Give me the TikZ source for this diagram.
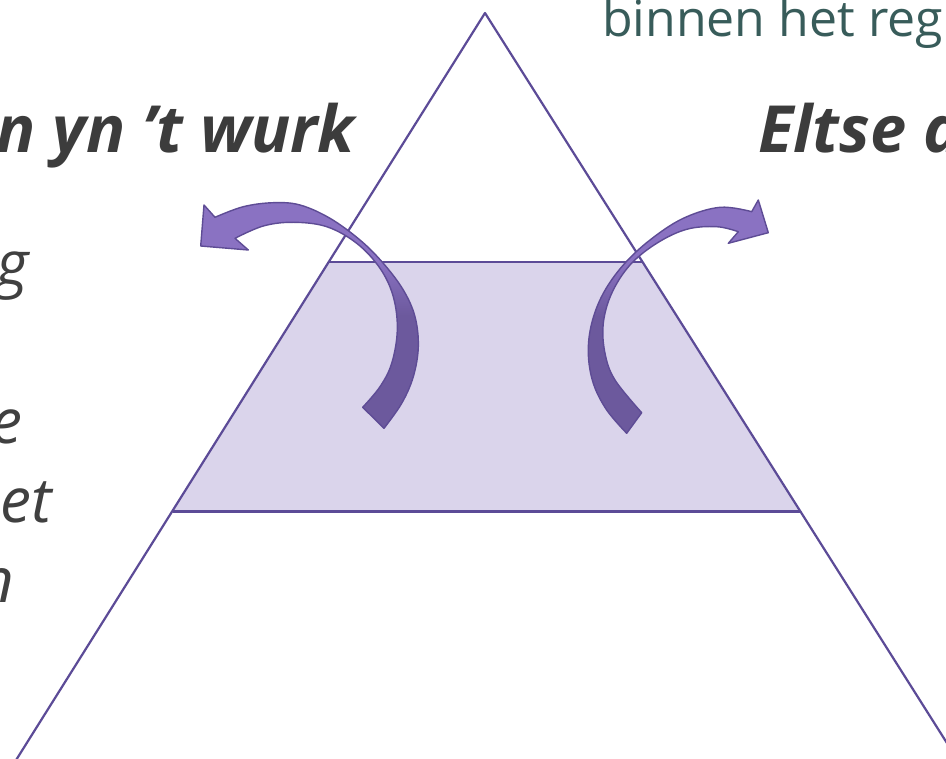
\documentclass[tikz,border=0pt]{standalone}
\usepackage{fontspec}
\setmainfont{Open Sans}
\definecolor{triline}{HTML}{5C4B97}
\definecolor{bandfill}{HTML}{DAD4EB}
\definecolor{adark}{HTML}{6C599D}
\definecolor{alight}{HTML}{8A72C2}
\definecolor{aline}{HTML}{5E4C95}
\definecolor{headgray}{HTML}{3C3C3C}
\definecolor{bodygray}{HTML}{404040}
\definecolor{tealtext}{HTML}{385C5A}
\pgfdeclareverticalshading{arrowshade}{100bp}{color(0bp)=(adark); color(25bp)=(adark); color(50bp)=(adark); color(62bp)=(alight); color(75bp)=(alight); color(100bp)=(alight)}
\tikzset{
  triedge/.style={draw=triline, line width=2.2pt, line join=round},
  bandarea/.style={fill=bandfill},
  curvedarrow/.style={shading=arrowshade, draw=aline, line width=1.4pt, line join=round},
  headtext/.style={inner sep=0pt, text=headgray, font=\fontsize{65}{72}\selectfont\bfseries\itshape},
  bodytext/.style={inner sep=0pt, text=bodygray, font=\fontsize{62}{76}\selectfont\itshape},
  tealline/.style={inner sep=0pt, text=tealtext, font=\fontsize{50}{60}\selectfont}
}
\begin{document}
\begin{tikzpicture}[x=1pt,y=-1pt]
\useasboundingbox (0,0) rectangle (946,759);
\clip (0,0) rectangle (946,759);
\fill[white] (0,0) rectangle (946,759);

% band of the pyramid
\path[bandarea] (328,262) -- (642,262) -- (800,511) -- (173,511) -- cycle;
\draw[draw=triline, line width=2.2pt] (328,262) -- (642,262);
\draw[draw=triline, line width=3pt] (173,511) -- (800,511);

% triangle
\draw[triedge] (485,13) -- (-9,800) -- (983,800) -- cycle;

% left curved arrow
\shade[curvedarrow] (362.7,407.3) -- (384,428.3)
  -- plot[smooth, tension=0.6] coordinates {(384,428.3) (401.7,403.3) (413.3,376.7) (418.3,346.7) (415,316.7) (403.3,290) (383.3,263.3) (360,240) (330,218.3) (300,205) (273.3,202.7) (243.3,206.7) (215,217.3)}
  -- (204,205) -- (200.7,246) -- (248.3,250) -- (235,238.3)
  -- plot[smooth, tension=0.6] coordinates {(235,238.3) (263.3,226) (293.3,222.3) (326.7,226.7) (356.7,243.3) (380,268.3) (393.3,296.7) (397.3,330) (391.7,363.3) (380,386.7) (362.7,407.3)}
  -- cycle;

% right curved arrow
\shade[curvedarrow] (641.7,412.7) -- (626.7,433.3)
  -- plot[smooth, tension=0.6] coordinates {(626.7,433.3) (606.7,410) (593.3,383.3) (588.3,353.3) (591.7,323.3) (603.3,293.3) (623.3,265) (650,240) (683.3,218.3) (720,207.3) (751.7,211.7)}
  -- (758.3,200) -- (768.3,232.7) -- (728.3,243.3) -- (738.3,231.7)
  -- plot[smooth, tension=0.6] coordinates {(738.3,231.7) (716.7,226.7) (686.7,229.3) (656.7,243.3) (630,265) (611.7,293.3) (603.3,323.3) (605,353.3) (615,380) (641.7,412.7)}
  -- cycle;

% texts
\node[tealline, anchor=base west] (teal) at (602,37) {binnen het reg};
\node[headtext, anchor=base east] (lefthead) at (355,153) {n yn ’t wurk};
\node[headtext, anchor=base west] (righthead) at (758,153) {Eltse d};
\node[bodytext, anchor=base east] (l1) at (29,286) {g};
\node[bodytext, anchor=base east] (l2) at (23,443) {e};
\node[bodytext, anchor=base east] (l3) at (52,522) {et};
\node[bodytext, anchor=base east] (l4) at (14,602) {n};
\end{tikzpicture}
\end{document}
